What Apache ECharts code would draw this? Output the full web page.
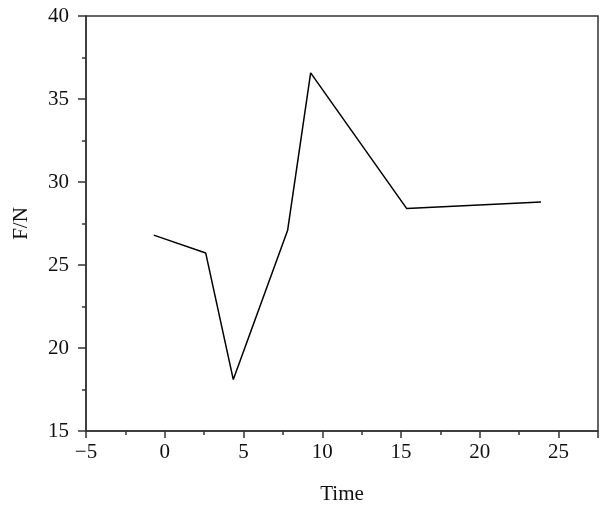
<!DOCTYPE html>
<html>
<head>
<meta charset="utf-8">
<script src="https://cdn.jsdelivr.net/npm/echarts@6/dist/echarts.min.js"></script>
<style>
  html, body { margin: 0; padding: 0; background: #fff; }
  #chart { width: 600px; height: 511px; }
</style>
</head>
<body>
<div id="chart"></div>
<script>
// values
var timeValues = [-0.7, 2.6, 4.35, 7.8, 9.26, 15.36, 23.88];
var forceValues = [26.8, 25.72, 18.1, 27.1, 36.57, 28.4, 28.8];

var points = [];
for (var i = 0; i < timeValues.length; i++) {
  points.push([timeValues[i], forceValues[i]]);
}

var font = 'Liberation Serif';
var axisColor = '#333';

var chart = echarts.init(document.getElementById('chart'));
var option = {
  animation: false,
  grid: {
    left: 86,
    right: 2,
    top: 16,
    bottom: 80,
    show: true,
    borderColor: axisColor,
    borderWidth: 1.5,
    backgroundColor: 'transparent'
  },
  xAxis: {
    type: 'value',
    min: -5,
    max: 27.5,
    interval: 5,
    name: 'Time',
    nameLocation: 'middle',
    nameGap: 53,
    nameTextStyle: { fontFamily: font, fontSize: 21, color: '#111' },
    axisLine: { show: true, onZero: false, lineStyle: { color: axisColor, width: 1.5 } },
    axisTick: { show: true, inside: false, length: 7, lineStyle: { color: axisColor, width: 1.5 } },
    minorTick: { show: true, splitNumber: 2, length: 4, lineStyle: { color: axisColor, width: 1.5 } },
    axisLabel: {
      fontFamily: font, fontSize: 21, color: '#111', margin: 11,
      showMaxLabel: false,
      formatter: function (v) { return v < 0 ? '\u2212' + Math.abs(v) : String(v); }
    },
    splitLine: { show: false }
  },
  yAxis: {
    type: 'value',
    min: 15,
    max: 40,
    interval: 5,
    name: 'F/N',
    nameLocation: 'middle',
    nameGap: 54,
    nameTextStyle: { fontFamily: font, fontSize: 21, color: '#111' },
    axisLine: { show: true, onZero: false, lineStyle: { color: axisColor, width: 1.5 } },
    axisTick: { show: true, inside: false, length: 8, lineStyle: { color: axisColor, width: 1.5 } },
    minorTick: { show: true, splitNumber: 2, length: 4, lineStyle: { color: axisColor, width: 1.5 } },
    axisLabel: { fontFamily: font, fontSize: 21, color: '#111', margin: 17 },
    splitLine: { show: false }
  },
  series: [{
    type: 'line',
    data: points,
    symbol: 'none',
    lineStyle: { color: '#000', width: 1.5 }
  }]
};
chart.setOption(option);
</script>
</body>
</html>
